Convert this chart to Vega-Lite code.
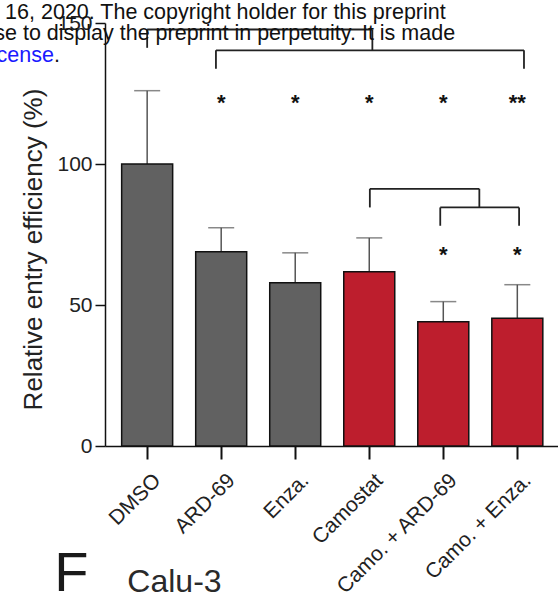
{
  "$schema": "https://vega.github.io/schema/vega-lite/v6.json",
  "autosize": "none",
  "padding": {"left": 105, "top": 23, "right": 0, "bottom": 162},
  "width": 453,
  "height": 423,
  "background": "white",
  "config": {"view": {"stroke": null}, "font": "Liberation Sans"},
  "datasets": {
    "bars": [
      {"x": 0, "treatment": "DMSO", "y": 100, "group": "single"},
      {"x": 1, "treatment": "ARD-69", "y": 68.9, "group": "single"},
      {"x": 2, "treatment": "Enza.", "y": 57.9, "group": "single"},
      {"x": 3, "treatment": "Camostat", "y": 61.8, "group": "camostat"},
      {"x": 4, "treatment": "Camo. + ARD-69", "y": 44.1, "group": "camostat"},
      {"x": 5, "treatment": "Camo. + Enza.", "y": 45.3, "group": "camostat"}
    ],
    "errors": [
      {"x": 0, "y": 126, "y2": 100},
      {"x": 1, "y": 77.4, "y2": 68.9},
      {"x": 2, "y": 68.5, "y2": 57.9},
      {"x": 3, "y": 73.8, "y2": 61.8},
      {"x": 4, "y": 51.2, "y2": 44.1},
      {"x": 5, "y": 57.2, "y2": 45.3}
    ],
    "brackets": [
      {"x": 0, "x2": 3.042, "y": 147.7, "y2": 147.7},
      {"x": 0, "x2": 0, "y": 147.7, "y2": 141.2},
      {"x": 3.042, "x2": 3.042, "y": 147.7, "y2": 140.3},
      {"x": 0.929, "x2": 5.09, "y": 140.3, "y2": 140.3},
      {"x": 0.929, "x2": 0.929, "y": 140.3, "y2": 133.8},
      {"x": 5.09, "x2": 5.09, "y": 140.3, "y2": 133.8},
      {"x": 3.008, "x2": 4.487, "y": 91.2, "y2": 91.2},
      {"x": 3.008, "x2": 3.008, "y": 91.2, "y2": 84.6},
      {"x": 4.487, "x2": 4.487, "y": 91.2, "y2": 84.6},
      {"x": 3.959, "x2": 5.024, "y": 84.6, "y2": 84.6},
      {"x": 3.959, "x2": 3.959, "y": 84.6, "y2": 78.1},
      {"x": 5.024, "x2": 5.024, "y": 84.6, "y2": 78.1}
    ],
    "stars": [
      {"x": 1, "y": 119.3, "label": "*"},
      {"x": 2, "y": 119.3, "label": "*"},
      {"x": 3, "y": 119.3, "label": "*"},
      {"x": 4, "y": 119.3, "label": "*"},
      {"x": 5, "y": 119.3, "label": "**"},
      {"x": 4, "y": 65.3, "label": "*"},
      {"x": 5, "y": 65.3, "label": "*"}
    ]
  },
  "encoding": {
    "x": {
      "field": "x", "type": "quantitative",
      "scale": {"domain": [-0.502, 5.482], "nice": false, "zero": false},
      "axis": {
        "title": null, "grid": false,
        "values": [0, 1, 2, 3, 4, 5],
        "labelExpr": "['DMSO','ARD-69','Enza.','Camostat','Camo. + ARD-69','Camo. + Enza.'][datum.value]",
        "labelAngle": -45, "labelAlign": "right", "labelBaseline": "middle",
        "labelOffset": 10, "labelPadding": 18,
        "labelFont": "Liberation Sans", "labelFontSize": 21, "labelColor": "#222222",
        "tickSize": 13, "tickWidth": 2, "tickColor": "#111111",
        "domainColor": "#111111", "domainWidth": 1.5,
        "labelOverlap": false, "labelFlush": false, "labelBound": false
      }
    },
    "y": {
      "field": "y", "type": "quantitative",
      "scale": {"domain": [0, 150], "nice": false, "zero": true},
      "axis": {
        "title": "Relative entry efficiency (%)", "grid": false,
        "values": [0, 50, 100, 150],
        "titleFont": "Liberation Sans", "titleFontSize": 26, "titleFontWeight": "normal", "titleColor": "#222222",
        "titleAngle": -90, "titleAlign": "center", "titleBaseline": "alphabetic",
        "titleX": -64, "titleY": 226,
        "labelFont": "Liberation Sans",
        "labelFontSize": 21, "labelColor": "#222222", "labelPadding": 3,
        "tickSize": 10, "tickWidth": 1.5, "tickColor": "#111111",
        "domainColor": "#111111", "domainWidth": 1.5,
        "labelOverlap": false, "labelFlush": false
      }
    }
  },
  "layer": [
    {
      "data": {"name": "errors"},
      "mark": {"type": "rule", "color": "#555555", "strokeWidth": 1.5},
      "encoding": {"y2": {"field": "y2"}}
    },
    {
      "data": {"name": "errors"},
      "mark": {"type": "tick", "orient": "horizontal", "size": 26, "thickness": 1.5, "color": "#555555"},
      "encoding": {}
    },
    {
      "data": {"name": "bars"},
      "mark": {"type": "bar", "width": 51, "stroke": "#111111", "strokeWidth": 1.5, "opacity": 1},
      "encoding": {
        "color": {
          "field": "group", "type": "nominal",
          "scale": {"domain": ["single", "camostat"], "range": ["#616161", "#bd1e2d"]},
          "legend": null
        }
      }
    },
    {
      "data": {"name": "brackets"},
      "mark": {"type": "rule", "color": "#222222", "strokeWidth": 1.8},
      "encoding": {"x2": {"field": "x2"}, "y2": {"field": "y2"}}
    },
    {
      "data": {"name": "stars"},
      "mark": {"type": "text", "font": "Liberation Sans", "fontSize": 22, "fontWeight": "bold", "color": "#111111", "align": "center", "baseline": "alphabetic"},
      "encoding": {"text": {"field": "label"}}
    },
    {
      "data": {"values": [{"x": 4.033, "y": 151.56, "t": "ber 16, 2020. The copyright holder for this preprint"}]},
      "mark": {"type": "text", "font": "Liberation Sans", "fontSize": 21.5, "color": "#111111", "align": "right", "baseline": "alphabetic"},
      "encoding": {"text": {"field": "t"}}
    },
    {
      "data": {"values": [{"x": 4.16, "y": 143.86, "t": "ense to display the preprint in perpetuity. It is made"}]},
      "mark": {"type": "text", "font": "Liberation Sans", "fontSize": 21.5, "color": "#111111", "align": "right", "baseline": "alphabetic"},
      "encoding": {"text": {"field": "t"}}
    },
    {
      "data": {"values": [{"x": -1.26, "y": 136.05, "t": "icense"}]},
      "mark": {"type": "text", "font": "Liberation Sans", "fontSize": 21.5, "color": "#1a1aff", "align": "right", "baseline": "alphabetic"},
      "encoding": {"text": {"field": "t"}}
    },
    {
      "data": {"values": [{"x": -1.26, "y": 136.05, "t": "."}]},
      "mark": {"type": "text", "font": "Liberation Sans", "fontSize": 21.5, "color": "#111111", "align": "left", "baseline": "alphabetic"},
      "encoding": {"text": {"field": "t"}}
    },
    {
      "data": {"values": [{"x": -1.256, "y": -51.36, "t": "F"}]},
      "mark": {"type": "text", "font": "Liberation Sans", "fontSize": 56, "color": "#1a1a1a", "align": "left", "baseline": "alphabetic"},
      "encoding": {"text": {"field": "t"}}
    },
    {
      "data": {"values": [{"x": -0.268, "y": -51.8, "t": "Calu-3"}]},
      "mark": {"type": "text", "font": "Liberation Sans", "fontSize": 32, "color": "#2a2a2a", "align": "left", "baseline": "alphabetic"},
      "encoding": {"text": {"field": "t"}}
    }
  ]
}
